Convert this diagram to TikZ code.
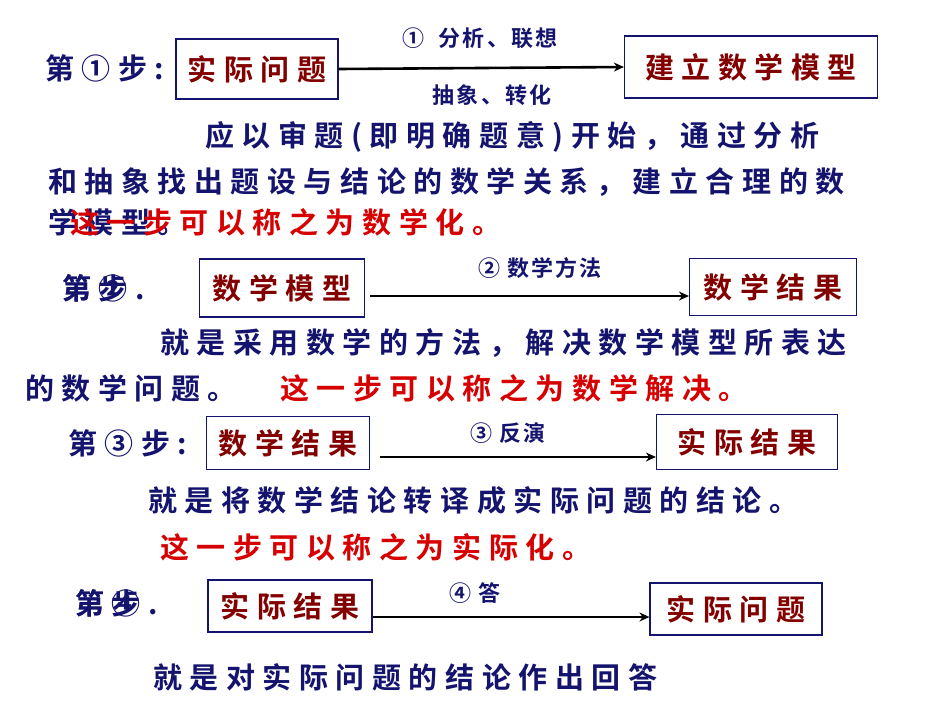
\documentclass[tikz,border=0pt]{standalone}
\usepackage{fontspec}
\usetikzlibrary{arrows.meta}
\setmainfont{Noto Sans CJK SC}[BoldFont={Noto Sans CJK SC Bold},LetterSpace=26]
\newfontfamily\lblfont{Noto Sans CJK SC Bold}[LetterSpace=10]
\definecolor{navy}{RGB}{20,20,110}
\definecolor{dred}{RGB}{130,0,0}
\definecolor{bred}{RGB}{215,0,0}
\tikzset{
 txt/.style={anchor=west,inner sep=0pt,font=\fontsize{29}{30}\selectfont\bfseries,text=navy},
 rtxt/.style={txt,text=bred},
 lbl/.style={inner sep=0pt,font=\fontsize{22}{24}\selectfont\lblfont,text=navy},
 box/.style={draw=navy,line width=1.2pt,inner sep=0pt,font=\fontsize{29}{32}\selectfont\bfseries,text=dred},
 arr/.style={-{Stealth[length=10pt,width=9pt]},line width=2.6pt,black}
}
\begin{document}
\begin{tikzpicture}[x=1pt,y=-1pt]
\useasboundingbox[fill=white] (0,0) rectangle (950,713);
% step 1
\node[txt] (s1) at (45,68) {第①步:};
\node[box,minimum width=162,minimum height=60] (b1) at (257,69) {实际问题};
\node[box,minimum width=253,minimum height=62] (b2) at (751,67) {建立数学模型};
\draw[arr] (b1.east) -- (b2.west);
\node[lbl] (l1a) at (480,38) {①\ \ 分析、联想};
\node[lbl] (l1b) at (492,95) {抽象、转化};
\node[txt] (p1a) at (205,137) {应以审题(即明确题意)开始，通过分析};
\node[txt] (p1b) at (48,182) {和抽象找出题设与结论的数学关系，建立合理的数};
\node[txt] (p1c) at (48,222) {学模型。};
\node[rtxt] (p1d) at (70,222) {这一步可以称之为数学化。};
% step 2
\node[txt] (s2b) at (62,288) {第步.};
\node[txt] (s2) at (62,288) {第②};
\node[box,minimum width=165,minimum height=58] (b3) at (282,288) {数学模型};
\node[box,minimum width=167,minimum height=57] (b4) at (773,287) {数学结果};
\draw[arr] (b3.east) ++(5,8) coordinate (a2s) -- (a2s -| b4.west);
\node[lbl] (l2) at (540,268) {②\ 数学方法};
\node[txt] (p2a) at (160,343) {就是采用数学的方法，解决数学模型所表达};
\node[txt] (p2b) at (25,388) {的数学问题。};
\node[rtxt] (p2c) at (280,388) {这一步可以称之为数学解决。};
% step 3
\node[txt] (s3) at (68,443) {第③步:};
\node[box,minimum width=163,minimum height=53] (b5) at (288,443) {数学结果};
\node[box,minimum width=181,minimum height=55] (b6) at (747,442) {实际结果};
\draw[arr] (b5.east) ++(10,14) coordinate (a3s) -- (a3s -| b6.west);
\node[lbl] (l3) at (508,433) {③\ 反演};
\node[txt] (p3a) at (148,500) {就是将数学结论转译成实际问题的结论。};
\node[rtxt] (p3b) at (160,547) {这一步可以称之为实际化。};
% step 4
\node[txt] (s4b) at (75,603) {第步.};
\node[txt] (s4) at (75,603) {第④};
\node[box,minimum width=164,minimum height=52] (b7) at (290,606) {实际结果};
\node[box,minimum width=172,minimum height=52] (b8) at (736,609) {实际问题};
\draw[arr] (b7.east) ++(0,11) coordinate (a4s) -- (a4s -| b8.west);
\node[lbl] (l4) at (475,593) {④\ 答};
\node[txt] (p4) at (153,677) {就是对实际问题的结论作出回答};
\end{tikzpicture}
\end{document}
